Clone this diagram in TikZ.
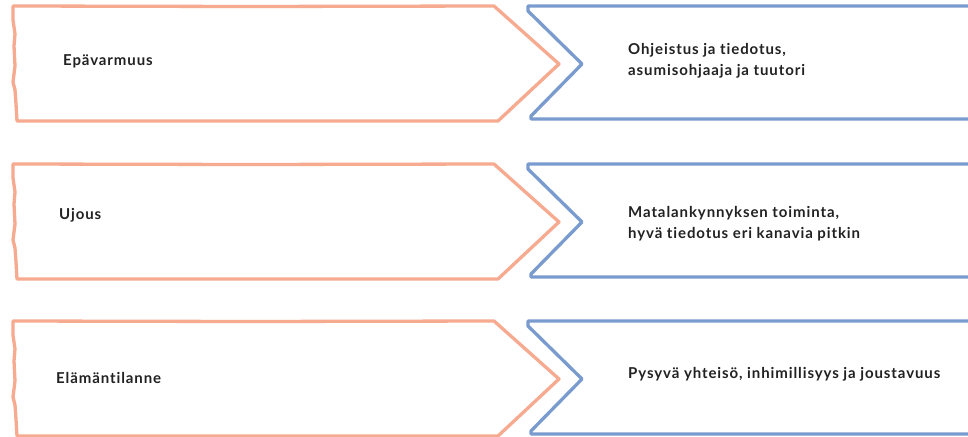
\documentclass[tikz,border=0pt]{standalone}
\usepackage{fontspec}
\setmainfont{Lato}[LetterSpace=6,Ligatures=NoCommon]
\definecolor{salmon}{RGB}{246,170,143}
\definecolor{steel}{RGB}{122,155,206}
\definecolor{ink}{RGB}{34,34,34}
\tikzset{
  leftshape/.style={draw=salmon, line width=3.3pt, line join=round, line cap=round},
  rightshape/.style={draw=steel, line width=3.3pt, line join=round, line cap=round},
  lbl/.style={anchor=west, inner sep=0pt, text=ink, font=\fontsize{15}{21}\selectfont\bfseries, align=left},
}
\begin{document}
\begin{tikzpicture}[x=1pt,y=-1pt]
\useasboundingbox (0,0) rectangle (968,436);
\fill[white] (0,0) rectangle (968,436);
\foreach \t/\i in {6/1,164/2,321/3}{
  \draw[leftshape] (13,\t) -- (250,\t+0.5) -- (494,\t) -- (559,\t+58) -- (498,\t+115)
     -- (17,\t+115) -- (16,\t+98) -- (15,\t+84) -- (13,\t+76) -- (15,\t+60)
     -- (14,\t+40) -- (15,\t+28) -- (13,\t+14) -- cycle;
  \draw[rightshape] (975,\t) -- (528,\t) -- (528,\t+5) -- (582,\t+58) -- (531,\t+110)
     -- (531,\t+113) -- (975,\t+113);
}
\node[lbl] (l1) at (63,61) {Epävarmuus};
\node[lbl] (l2) at (59,215) {Ujous};
\node[lbl] (l3) at (56,378) {Elämäntilanne};
\node[lbl] (r1) at (628,60.5) {Ohjeistus ja tiedotus,\\asumisohjaaja ja tuutori};
\node[lbl] (r2) at (628,224) {Matalankynnyksen toiminta,\\hyvä tiedotus eri kanavia pitkin};
\node[lbl] (r3) at (628,374) {Pysyvä yhteisö, inhimillisyys ja joustavuus};
\end{tikzpicture}
\end{document}
